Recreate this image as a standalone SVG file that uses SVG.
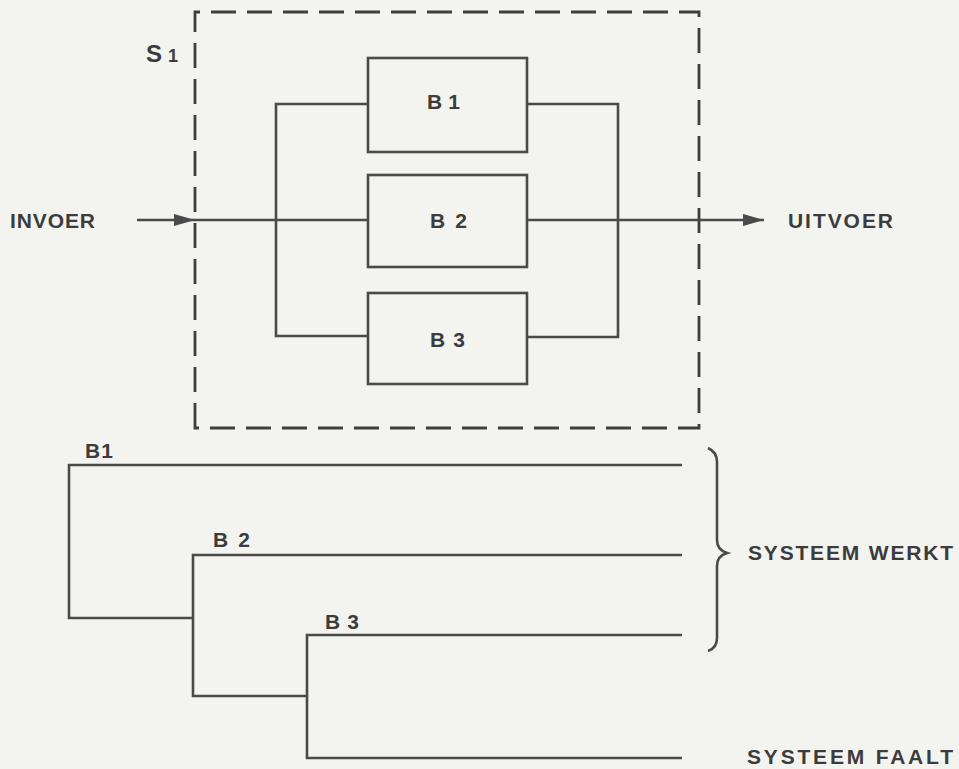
<svg xmlns="http://www.w3.org/2000/svg" width="959" height="769" viewBox="0 0 959 769">
<defs>
<marker id="arr" markerUnits="userSpaceOnUse" markerWidth="22" markerHeight="14" refX="21" refY="7" orient="auto">
<path d="M0,1 L21,7 L0,13 Z" fill="#4a4a4a"/>
</marker>
<style>
.ln{fill:none;stroke:#4a4a4a;stroke-width:2.6;stroke-linejoin:miter;stroke-linecap:butt}
.box{fill:none;stroke:#4a4a4a;stroke-width:2.6}
.dash{fill:none;stroke:#3e3e3e;stroke-width:2.8;stroke-dasharray:25 11}
.t{font-family:"Liberation Sans",Arial,sans-serif;font-weight:bold;fill:#3c3c3c;font-size:21px}
</style>
</defs>
<rect width="959" height="769" fill="#f3f3f0"/>

<g id="S1">
<path class="dash" d="M195,428 L195,12 L699,12 L699,428 Z"/>
<text class="t" x="146" y="62" style="font-size:24px">S<tspan dx="6" style="font-size:18px">1</tspan></text>
</g>

<g id="B1">
<rect class="box" x="368" y="58" width="159" height="94"/>
<text class="t" x="427" y="109" textLength="33" lengthAdjust="spacing">B1</text>
</g>
<g id="B2">
<rect class="box" x="368" y="175" width="159" height="92"/>
<text class="t" x="430" y="228" textLength="37" lengthAdjust="spacing">B2</text>
</g>
<g id="B3">
<rect class="box" x="368" y="293" width="159" height="91"/>
<text class="t" x="430" y="347" textLength="35" lengthAdjust="spacing">B3</text>
</g>

<g id="invoer">
<text class="t" x="10" y="228" textLength="85" lengthAdjust="spacing">INVOER</text>
</g>
<g id="uitvoer">
<text class="t" x="788" y="228" textLength="105" lengthAdjust="spacing">UITVOER</text>
</g>

<g id="connectors">
<path class="ln" d="M137,220 L195,220" marker-end="url(#arr)"/>
<path class="ln" d="M195,220 L368,220"/>
<path class="ln" d="M368,104 L276,104 L276,336 L368,336"/>
<path class="ln" d="M527,104 L618,104 L618,337 L527,337"/>
<path class="ln" d="M527,220 L764,220" marker-end="url(#arr)"/>
</g>

<g id="timeline-B1">
<text class="t" x="85" y="458" textLength="28" lengthAdjust="spacing">B1</text>
<path class="ln" d="M682,465 L69,465 L69,618 L193,618"/>
</g>
<g id="timeline-B2">
<text class="t" x="213" y="547" textLength="37" lengthAdjust="spacing">B2</text>
<path class="ln" d="M682,555 L193,555 L193,696 L307,696"/>
</g>
<g id="timeline-B3">
<text class="t" x="325" y="629" textLength="34" lengthAdjust="spacing">B3</text>
<path class="ln" d="M682,635 L307,635 L307,758 L682,758"/>
</g>

<g id="brace">
<path class="ln" d="M708,448 Q717,452 717,462 L717,540 Q717,550 727,553 Q717,556 717,566 L717,638 Q717,648 708,651"/>
</g>
<g id="werkt">
<text class="t" x="748" y="560" textLength="205" lengthAdjust="spacing">SYSTEEM WERKT</text>
</g>
<g id="faalt">
<text class="t" x="747" y="764" textLength="206" lengthAdjust="spacing">SYSTEEM FAALT</text>
</g>
</svg>
